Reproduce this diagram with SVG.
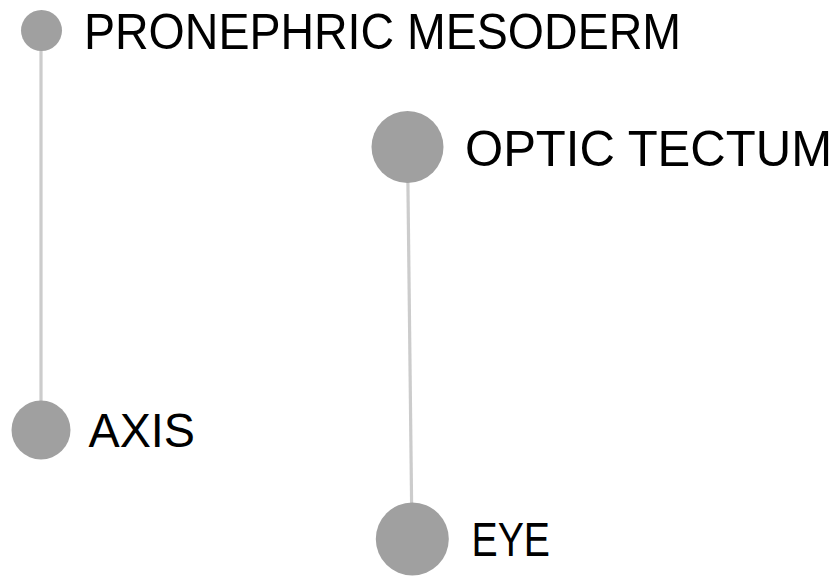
<svg xmlns="http://www.w3.org/2000/svg" width="839" height="577" viewBox="0 0 839 577">
<style>
.edge{stroke:#cccccc;stroke-width:3.2;fill:none}
.node circle{fill:#a0a0a0}
.node text{font-family:"Liberation Sans",Arial,Helvetica,sans-serif;fill:#000000;font-size:48px}
.node text.big{font-size:50px}
</style>
<rect width="839" height="577" fill="#ffffff"/>
<g id="connectors">
<line class="edge" x1="41" y1="30" x2="41" y2="430"/>
<line class="edge" x1="407.5" y1="147" x2="412" y2="539"/>
</g>
<g id="node-pronephric-mesoderm" class="node">
<circle cx="41.5" cy="30.5" r="20.5"/>
<text class="big" x="84" y="48.5" textLength="597" lengthAdjust="spacingAndGlyphs">PRONEPHRIC MESODERM</text>
</g>
<g id="node-optic-tectum" class="node">
<circle cx="407.5" cy="147" r="36"/>
<text class="big" x="465" y="166" textLength="367" lengthAdjust="spacingAndGlyphs">OPTIC TECTUM</text>
</g>
<g id="node-axis" class="node">
<circle cx="41" cy="430" r="29.5"/>
<text x="88.5" y="447" textLength="106.5" lengthAdjust="spacingAndGlyphs">AXIS</text>
</g>
<g id="node-eye" class="node">
<circle cx="412.3" cy="539" r="36.5"/>
<text x="471.5" y="556" textLength="78.5" lengthAdjust="spacingAndGlyphs">EYE</text>
</g>
</svg>
